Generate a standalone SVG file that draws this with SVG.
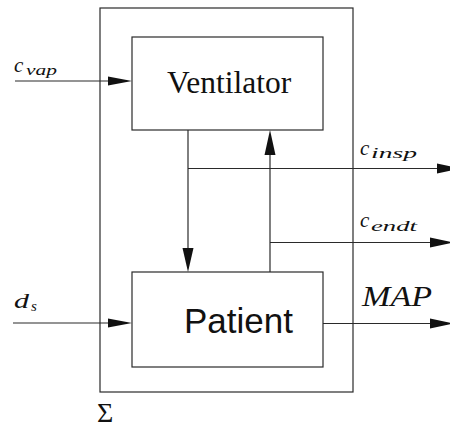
<svg xmlns="http://www.w3.org/2000/svg" width="450" height="431" viewBox="0 0 450 431">
<style>
.ln{stroke:#2a2a2a;stroke-width:1.2;fill:none}
.bx{stroke:#2a2a2a;stroke-width:1.2;fill:#fff}
.ah{fill:#111}
.m{font-family:"Liberation Serif",serif;font-style:italic;fill:#111}
.r{font-family:"Liberation Serif",serif;fill:#111}
.s{font-family:"Liberation Sans",sans-serif;fill:#111}
.sub{font-size:15px}
</style>
<rect width="450" height="431" fill="#fff"/>
<g id="system">
<rect class="ln" x="100" y="8" width="253" height="384"/>
<text class="r" x="97" y="422" font-size="28">Σ</text>
</g>
<g id="connectors">
<line class="ln" x1="15" y1="81" x2="110" y2="81"/>
<polygon class="ah" points="108,76.5 132,81 108,85.5"/>
<line class="ln" x1="13" y1="323" x2="110" y2="323"/>
<polygon class="ah" points="108,318.5 132,323 108,327.5"/>
<line class="ln" x1="188" y1="130" x2="188" y2="250"/>
<polygon class="ah" points="182.5,248 188,272 193.5,248"/>
<line class="ln" x1="188" y1="168.5" x2="440" y2="168.5"/>
<polygon class="ah" points="437,163.5 460,168.5 437,173.5"/>
<line class="ln" x1="270" y1="272" x2="270" y2="152"/>
<polygon class="ah" points="264.5,155 270,130 275.5,155"/>
<line class="ln" x1="270" y1="242.5" x2="432" y2="242.5"/>
<polygon class="ah" points="430,237.5 453,242.5 430,247.5"/>
<line class="ln" x1="323" y1="323.5" x2="432" y2="323.5"/>
<polygon class="ah" points="430,318.5 453,323.5 430,328.5"/>
</g>
<g id="ventilator">
<rect class="bx" x="132" y="37" width="191" height="93"/>
<text class="r" x="167" y="92.5" font-size="31.5">Ventilator</text>
</g>
<g id="patient">
<rect class="bx" x="132" y="272" width="191" height="95"/>
<text class="s" x="184" y="333" font-size="35">Patient</text>
</g>
<g id="labels">
<text class="m" x="14" y="72" font-size="21">c</text>
<text class="m sub" x="26" y="75" textLength="31" lengthAdjust="spacingAndGlyphs">vap</text>
<text class="m" x="360" y="155" font-size="21">c</text>
<text class="m sub" x="371" y="158" textLength="46" lengthAdjust="spacingAndGlyphs">insp</text>
<text class="m" x="360" y="227" font-size="21">c</text>
<text class="m sub" x="371" y="230.5" textLength="46" lengthAdjust="spacingAndGlyphs">endt</text>
<text class="m" x="362" y="306" font-size="30" textLength="70" lengthAdjust="spacingAndGlyphs">MAP</text>
<text class="m" x="14" y="308" font-size="20" textLength="15" lengthAdjust="spacingAndGlyphs">d</text>
<text class="m sub" x="31" y="311">s</text>
</g>
</svg>
